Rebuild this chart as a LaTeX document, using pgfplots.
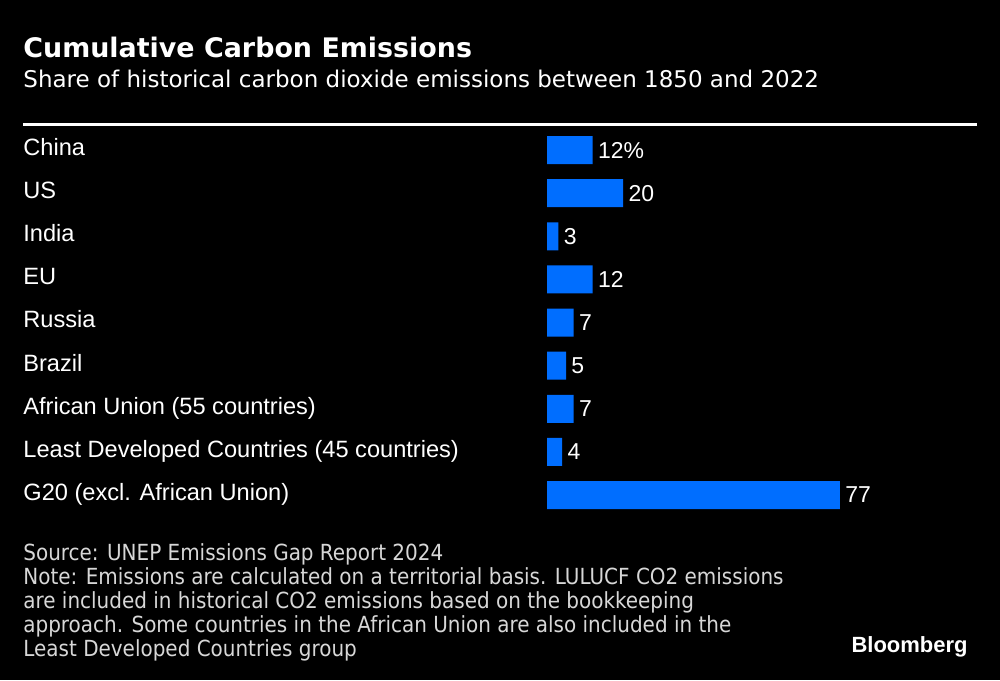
\documentclass[border=0pt]{standalone}
\usepackage{pgfplots}
\pgfplotsset{compat=1.18}
\usepackage{fontspec}
\setmainfont{Liberation Sans}
\newfontfamily\titlefont{DejaVu Sans}
\newfontfamily\notefont{DejaVu Sans Condensed}
\definecolor{bbblue}{RGB}{0,110,255}
\definecolor{notegray}{RGB}{215,215,215}
\begin{document}
\begin{tikzpicture}[x=0.5pt,y=0.5pt]
\fill[black] (0,0) rectangle (1000,680);
\useasboundingbox (0,0) rectangle (1000,680);
% title
\node[anchor=base west, inner sep=0, text=white, font=\titlefont\fontsize{13.45pt}{16pt}\selectfont\bfseries] at (23,{680-58}) {Cumulative Carbon Emissions};
\node[anchor=base west, inner sep=0, text=white, font=\titlefont\fontsize{11.5pt}{14pt}\selectfont] at (23,{680-88}) {Share of historical carbon dioxide emissions between 1850 and 2022};
\draw[white, line width=1.5pt] (23,{680-125}) -- (977,{680-125});
% category labels
\foreach \t [count=\i] in {China,US,India,EU,Russia,Brazil,African Union (55 countries),Least Developed Countries (45 countries),G20 (excl. African Union)}{
  \node[anchor=base west, inner sep=0, text=white, font=\fontsize{11.8pt}{14pt}\selectfont] at (23,{680-155.5-43.125*(\i-1)}) {\t};
}
\begin{axis}[
  at={(273.5pt,81.7pt)}, anchor=south west,
  width=190.25pt, height=194.06pt, scale only axis,
  xmin=0, xmax=100, ymin=0.5, ymax=9.5, y dir=reverse,
  hide axis, clip=false,
  xbar, bar width=14pt,
  nodes near coords, point meta=explicit symbolic,
  nodes near coords style={text=white, font=\fontsize{11.5pt}{13pt}\selectfont, inner sep=2.5pt, anchor=west},
]
\addplot[fill=bbblue, draw=none] coordinates {
(12,1) [12\%]
(20,2) [20]
(3,3) [3]
(12,4) [12]
(7,5) [7]
(5,6) [5]
(7,7) [7]
(4,8) [4]
(77,9) [77]
};
\end{axis}
% footnotes
\foreach \t [count=\i] in {Source: UNEP Emissions Gap Report 2024,Note: Emissions are calculated on a territorial basis. LULUCF CO2 emissions,are included in historical CO2 emissions based on the bookkeeping,approach. Some countries in the African Union are also included in the,Least Developed Countries group}{
  \node[anchor=base west, inner sep=0, text=notegray, font=\notefont\fontsize{11.1pt}{13pt}\selectfont] at (23,{680-560-24*(\i-1)}) {\t};
}
\node[anchor=base east, inner sep=0, text=white, font=\fontsize{11pt}{13pt}\selectfont\bfseries] at (968,{680-652}) {Bloomberg};
\end{tikzpicture}
\end{document}
